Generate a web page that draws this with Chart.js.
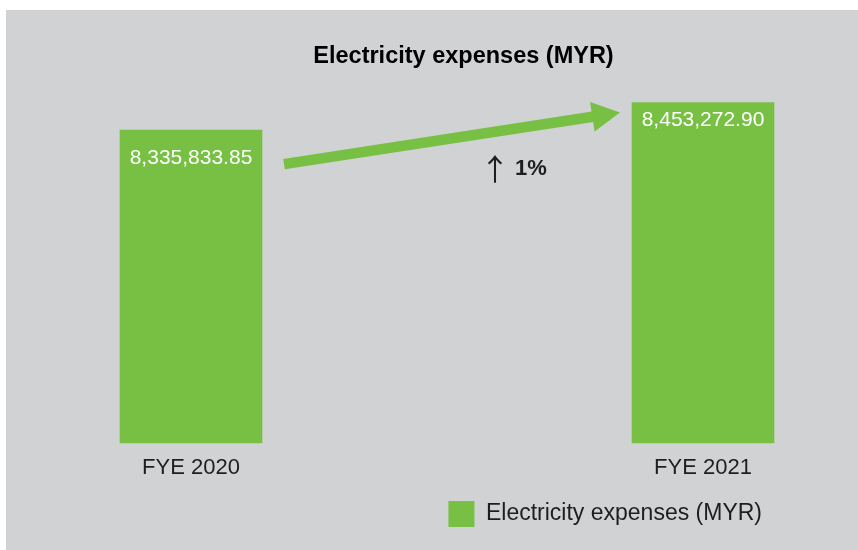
<!DOCTYPE html>
<html>
<head>
<meta charset="utf-8">
<title>Electricity expenses</title>
<script src="https://cdn.jsdelivr.net/npm/chart.js@4.4.0/dist/chart.umd.min.js"></script>
<style>
  html, body { margin: 0; padding: 0; background: #fff; }
  #panel { position: absolute; left: 6px; top: 10px; width: 852px; height: 540px; background: #d1d2d4; }
  #chart { position: absolute; left: 0; top: 0; }
</style>
</head>
<body>
<div id="panel"><canvas id="chart" width="852" height="527"></canvas></div>
<script>
const categories = ['FYE 2020', 'FYE 2021'];
const expenses = [8335833.85, 8453272.90];
const seriesLabel = 'Electricity expenses (MYR)';
const chartTitle = 'Electricity expenses (MYR)';

// value axis range (the bars start at the axis minimum, not at zero)
const Y_MIN = 7008800;
const Y_MAX = 8505400;

const GREEN = '#77c043';
const INK = '#1e1e1e';
const FONT = '"Liberation Sans", Arial, Helvetica, sans-serif';

Chart.defaults.font.family = FONT;

function fmt(v) {
    return v.toLocaleString('en-US', { minimumFractionDigits: 2, maximumFractionDigits: 2 });
}

// white value labels just inside the top of each bar
const valueLabels = {
    id: 'valueLabels',
    afterDatasetsDraw(chart) {
        const ctx = chart.ctx;
        const bars = chart.getDatasetMeta(0).data;
        const drop = [28, 18];
        ctx.save();
        ctx.font = '21px ' + FONT;
        ctx.fillStyle = '#fff';
        ctx.textAlign = 'center';
        ctx.textBaseline = 'middle';
        bars.forEach((bar, i) => {
            ctx.fillText(fmt(expenses[i]), bar.x, bar.y + drop[i]);
        });
        ctx.restore();
    }
};

// green arrow from the first bar to the second, plus the % change
const growthArrow = {
    id: 'growthArrow',
    afterDatasetsDraw(chart) {
        const ctx = chart.ctx;
        const [a, b] = chart.getDatasetMeta(0).data;
        const x0 = a.x + a.width / 2 + 22, y0 = a.y + 34;
        const x1 = b.x - b.width / 2 - 12, y1 = b.y + 10;
        const ang = Math.atan2(y1 - y0, x1 - x0);
        const cos = Math.cos(ang), sin = Math.sin(ang);
        const headLen = 28, headHalf = 15;
        const bx = x1 - headLen * cos, by = y1 - headLen * sin;

        ctx.save();
        ctx.strokeStyle = GREEN;
        ctx.fillStyle = GREEN;
        ctx.lineWidth = 10.5;
        ctx.beginPath();
        ctx.moveTo(x0, y0);
        ctx.lineTo(bx + 2 * cos, by + 2 * sin);
        ctx.stroke();

        ctx.beginPath();
        ctx.moveTo(x1, y1);
        ctx.lineTo(bx + headHalf * sin, by - headHalf * cos);
        ctx.lineTo(bx - headHalf * sin, by + headHalf * cos);
        ctx.closePath();
        ctx.fill();

        const pct = Math.round((expenses[1] - expenses[0]) / expenses[0] * 100);
        const mx = (x0 + x1) / 2, my = (y0 + y1) / 2;
        ctx.fillStyle = INK;
        ctx.textAlign = 'center';
        ctx.textBaseline = 'middle';
        ctx.font = '30px "Noto Sans CJK JP", ' + FONT;
        ctx.fillText('\u2191', mx + 43, my + 30);
        ctx.textAlign = 'left';
        ctx.font = 'bold 22px ' + FONT;
        ctx.fillText(pct + '%', mx + 63, my + 31);
        ctx.restore();
    }
};

const hiddenAxis = {
    display: true,
    grid: { display: false, drawTicks: false },
    border: { display: false },
    ticks: { display: false }
};

new Chart(document.getElementById('chart'), {
    type: 'bar',
    data: {
        labels: categories,
        datasets: [{
            label: seriesLabel,
            data: expenses,
            base: Y_MIN,
            backgroundColor: GREEN,
            borderWidth: 0,
            barThickness: 142,
            clip: false
        }]
    },
    options: {
        responsive: false,
        animation: false,
        devicePixelRatio: 1,
        layout: { padding: { left: 141, right: 78, top: 0, bottom: 0 } },
        scales: {
            x: {
                offset: false,
                grid: { display: false, drawTicks: false },
                border: { display: false },
                ticks: { padding: 12, color: INK, font: { size: 22 }, maxRotation: 0, autoSkip: false },
                afterFit: s => { s.height = 40; }
            },
            y: {
                ...hiddenAxis,
                beginAtZero: false,
                min: Y_MIN,
                max: Y_MAX,
                afterFit: s => { s.width = 44; }
            },
            yRight: {
                ...hiddenAxis,
                position: 'right',
                afterFit: s => { s.width = 77; }
            }
        },
        plugins: {
            title: {
                display: true,
                text: chartTitle,
                color: '#000',
                font: { size: 23.5, weight: 'bold' },
                padding: { top: 32, bottom: 20 }
            },
            legend: {
                position: 'bottom',
                align: 'end',
                labels: {
                    boxWidth: 26,
                    boxHeight: 26,
                    padding: 18,
                    color: INK,
                    font: { size: 23 }
                }
            },
            tooltip: { enabled: false }
        }
    },
    plugins: [valueLabels, growthArrow]
});
</script>
</body>
</html>
